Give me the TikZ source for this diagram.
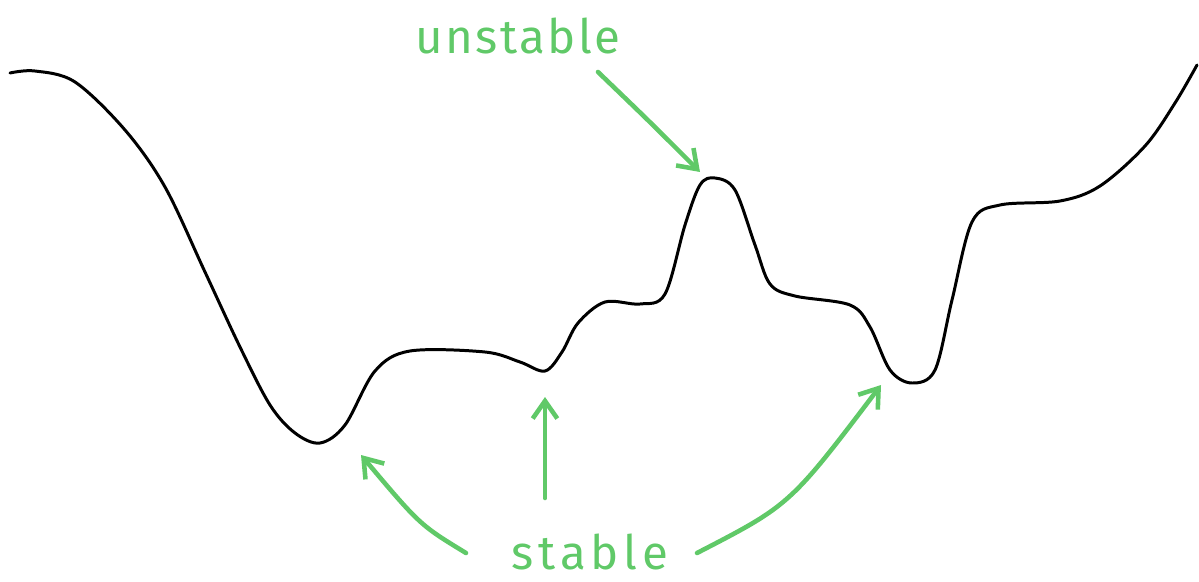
\documentclass[tikz,border=0pt]{standalone}
\usepackage{fontspec}
\setmainfont{Fira Sans}
\usetikzlibrary{arrows.meta, calc, positioning}

\definecolor{pen}{RGB}{96,201,104}

\begin{document}
\begin{tikzpicture}[x=0.02cm,y=-0.02cm,
        arr/.style={pen, line width=2.6pt, line cap=round, -{Straight Barb[length=10pt,width=14pt,line width=2.6pt]}},
        lbl/.style={pen, font=\fontsize{27}{30}\selectfont, inner sep=0pt}]
        \useasboundingbox (0,0) rectangle (1199,581);

        % 1. Potential landscape
        \draw[black, line width=1.7pt, line cap=round] plot [smooth, tension=0.55] coordinates {
            (10,73) (35,71) (75,82) (125,130) (165,187) (205,272) (240,347) (270,405)
            (295,433) (320,443) (345,425) (375,371) (410,351) (485,352) (520,362) (545,371)
            (562,352) (578,323) (605,302) (640,304) (665,294) (685,225) (700,185) (715,178)
            (735,190) (755,245) (770,284) (795,296) (850,305) (870,327) (890,370) (912,383)
            (935,370) (952,300) (972,222) (1000,205) (1060,201) (1100,186) (1145,146)
            (1175,103) (1197,65)
        };

        % 2. Coordinate Definitions
        \coordinate (peak) at (700,172);
        \coordinate (wellA) at (361,455);
        \coordinate (wellB) at (545,397);
        \coordinate (wellC) at (881,385);
        \coordinate (tailU) at (598,72);
        \coordinate (tailA) at (466,553);
        \coordinate (tailB) at (545,498);
        \coordinate (tailC) at (697,553);

        % 3. Labels
        \node[lbl] (unstable) at (518,36) {\addfontfeatures{LetterSpace=5}unstable};
        \node[lbl] (stable) at (590,552) {\addfontfeatures{LetterSpace=10}stable};

        % 4. Arrows
        \draw[arr] (tailU) .. controls (650,122) .. (peak);
        \draw[arr] (tailA) .. controls (420,525) .. (wellA);
        \draw[arr] (tailB) -- (wellB);
        \draw[arr] (tailC) .. controls (790,505) .. (wellC);
    \end{tikzpicture}
\end{document}
